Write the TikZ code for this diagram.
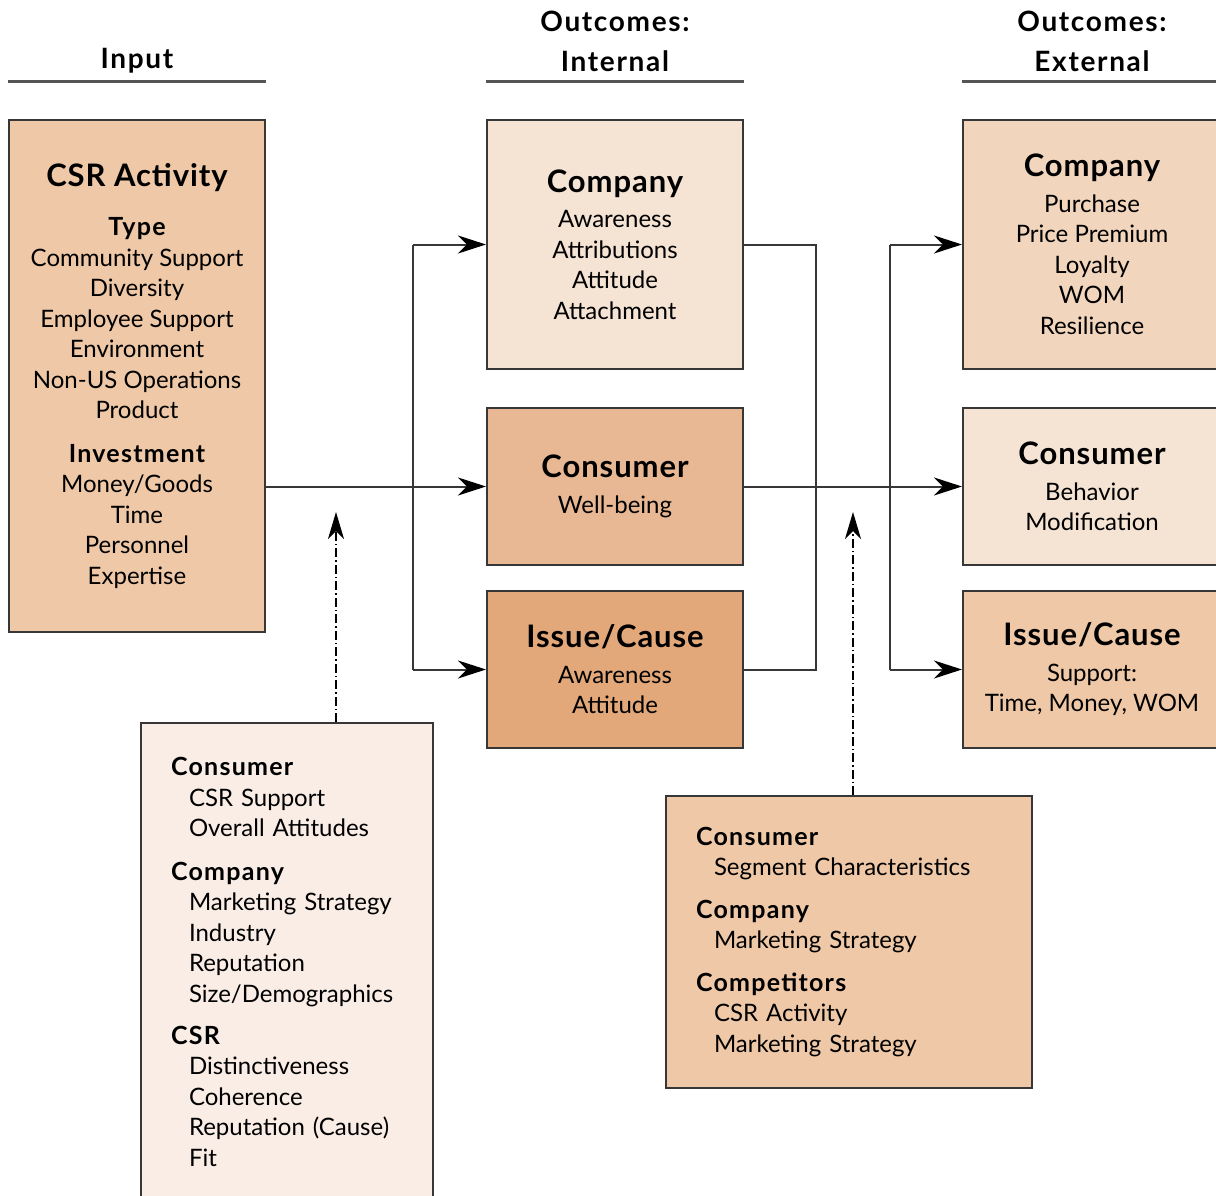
\documentclass[tikz,border=0pt]{standalone}
\usepackage{fontspec}
\setmainfont{Lato}
\usetikzlibrary{arrows.meta,positioning}

\definecolor{linecol}{RGB}{55,55,55}
\definecolor{rulecol}{RGB}{85,85,85}
\definecolor{csrcol}{RGB}{238,200,167}
\definecolor{palecol}{RGB}{245,227,212}
\definecolor{midcol}{RGB}{232,183,147}
\definecolor{darkcol}{RGB}{227,168,121}
\definecolor{extcol}{RGB}{242,213,189}
\definecolor{modcol}{RGB}{249,237,230}

\newcommand{\boxhead}[1]{{\fontsize{31}{30}\selectfont\bfseries\addfontfeature{LetterSpace=3}#1}}
\newcommand{\subhead}[1]{{\fontsize{25}{30}\selectfont\bfseries\addfontfeature{LetterSpace=5}#1}}
\newcommand{\ind}{\hspace*{18pt}}

\tikzset{
  box/.style={draw=linecol, line width=2pt, minimum width=256pt, align=center, inner sep=0pt},
  modbox/.style={draw=linecol, line width=2pt, align=left, inner xsep=30pt, inner ysep=0pt},
  line/.style={draw=linecol, line width=2pt},
  arr/.style={line, -{Stealth[length=28pt,width=18pt,inset=9pt,black]}},
  modarr/.style={draw=black, line width=1.4pt, dash pattern=on 9pt off 3pt on 1.5pt off 3pt,
    -{Stealth[length=27pt,width=16pt,inset=8pt]}},
  hdr/.style={font=\fontsize{28}{40}\selectfont\bfseries\addfontfeature{LetterSpace=6}, align=center, inner sep=0pt},
  rule/.style={draw=rulecol, line width=3pt}
}

\begin{document}
\begin{tikzpicture}[x=1pt, y=-1pt, node font=\fontsize{24}{30.5}\selectfont]
  \useasboundingbox (0,0) rectangle (1216,1196);
  \clip (0,0) rectangle (1216,1196);

  % column headers
  \node[hdr] (hin) at (137,61) {Input};
  \node[hdr] (hint) at (615,41) {Outcomes:\\Internal};
  \node[hdr] (hext) at (1092,41) {Outcomes:\\External};

  % input
  \node[box, fill=csrcol, minimum height=512pt] (csr) at (137,376)
    {\boxhead{CSR Activity}\\[19pt]
     \subhead{Type}\\
     Community Support\\ Diversity\\ Employee Support\\ Environment\\
     Non-US Operations\\ Product\\[13pt]
     \subhead{Investment}\\
     Money/Goods\\ Time\\ Personnel\\ Expertise};

  % internal outcomes
  \node[box, fill=palecol, minimum height=249pt] (intco) at (615,244.5)
    {\boxhead{Company}\\[5pt] Awareness\\ Attributions\\ Attitude\\ Attachment};
  \node[box, fill=midcol, minimum height=157pt] (intcons) at (615,486.5)
    {\boxhead{Consumer}\\[5pt] Well-being};
  \node[box, fill=darkcol, minimum height=157pt] (intiss) at (615,669.5)
    {\boxhead{Issue/Cause}\\[5pt] Awareness\\ Attitude};

  % external outcomes
  \node[box, fill=extcol, minimum width=258pt, minimum height=249pt] (extco) at (1092,244.5)
    {\boxhead{Company}\\[5pt] Purchase\\ Price Premium\\ Loyalty\\ WOM\\ Resilience};
  \node[box, fill=palecol, minimum width=258pt, minimum height=157pt] (extcons) at (1092,486.5)
    {\boxhead{Consumer}\\[5pt] Behavior\\ Modification};
  \node[box, fill=csrcol, minimum width=258pt, minimum height=157pt] (extiss) at (1092,669.5)
    {\boxhead{Issue/Cause}\\[5pt] Support:\\ Time, Money, WOM};

  % moderators
  \node[modbox, fill=modcol, text width=232pt, minimum height=478pt, anchor=north] (modl) at (287,722)
    {\subhead{Consumer}\\
     \ind CSR Support\\ \ind Overall Attitudes\\[13pt]
     \subhead{Company}\\
     \ind Marketing Strategy\\ \ind Industry\\ \ind Reputation\\ \ind Size/Demographics\\[11.5pt]
     \subhead{CSR}\\
     \ind Distinctiveness\\ \ind Coherence\\ \ind Reputation (Cause)\\ \ind Fit};
  \node[modbox, fill=csrcol, text width=306pt, minimum height=292pt] (modr) at (849,942)
    {\subhead{Consumer}\\
     \ind Segment Characteristics\\[12pt]
     \subhead{Company}\\
     \ind Marketing Strategy\\[12pt]
     \subhead{Competitors}\\
     \ind CSR Activity\\ \ind Marketing Strategy};

  % header rules
  \draw[rule] (csr.west |- 0,82) -- (csr.east |- 0,82);
  \draw[rule] (intco.west |- 0,82) -- (intco.east |- 0,82);
  \draw[rule] (extco.west |- 0,82) -- (extco.east |- 0,82);

  % connectors
  \coordinate (busL) at (413,486.5);
  \coordinate (busM) at (816,486.5);
  \coordinate (busR) at (890,486.5);
  \coordinate (tipL) at (336,512);
  \coordinate (tipR) at (853,512);

  \draw[arr] (csr.east |- intcons.west) -- (intcons.west);
  \draw[line] (busL |- intco.west) -- (busL |- intiss.west);
  \draw[arr] (busL |- intco.west) -- (intco.west);
  \draw[arr] (busL |- intiss.west) -- (intiss.west);

  \draw[line] (intco.east) -| (busM) |- (intiss.east);
  \draw[arr] (intcons.east) -- (extcons.west);
  \draw[line] (busR |- extco.west) -- (busR |- extiss.west);
  \draw[arr] (busR |- extco.west) -- (extco.west);
  \draw[arr] (busR |- extiss.west) -- (extiss.west);

  \draw[modarr] (modl.north -| tipL) -- (tipL);
  \draw[modarr] (modr.north -| tipR) -- (tipR);
\end{tikzpicture}
\end{document}
